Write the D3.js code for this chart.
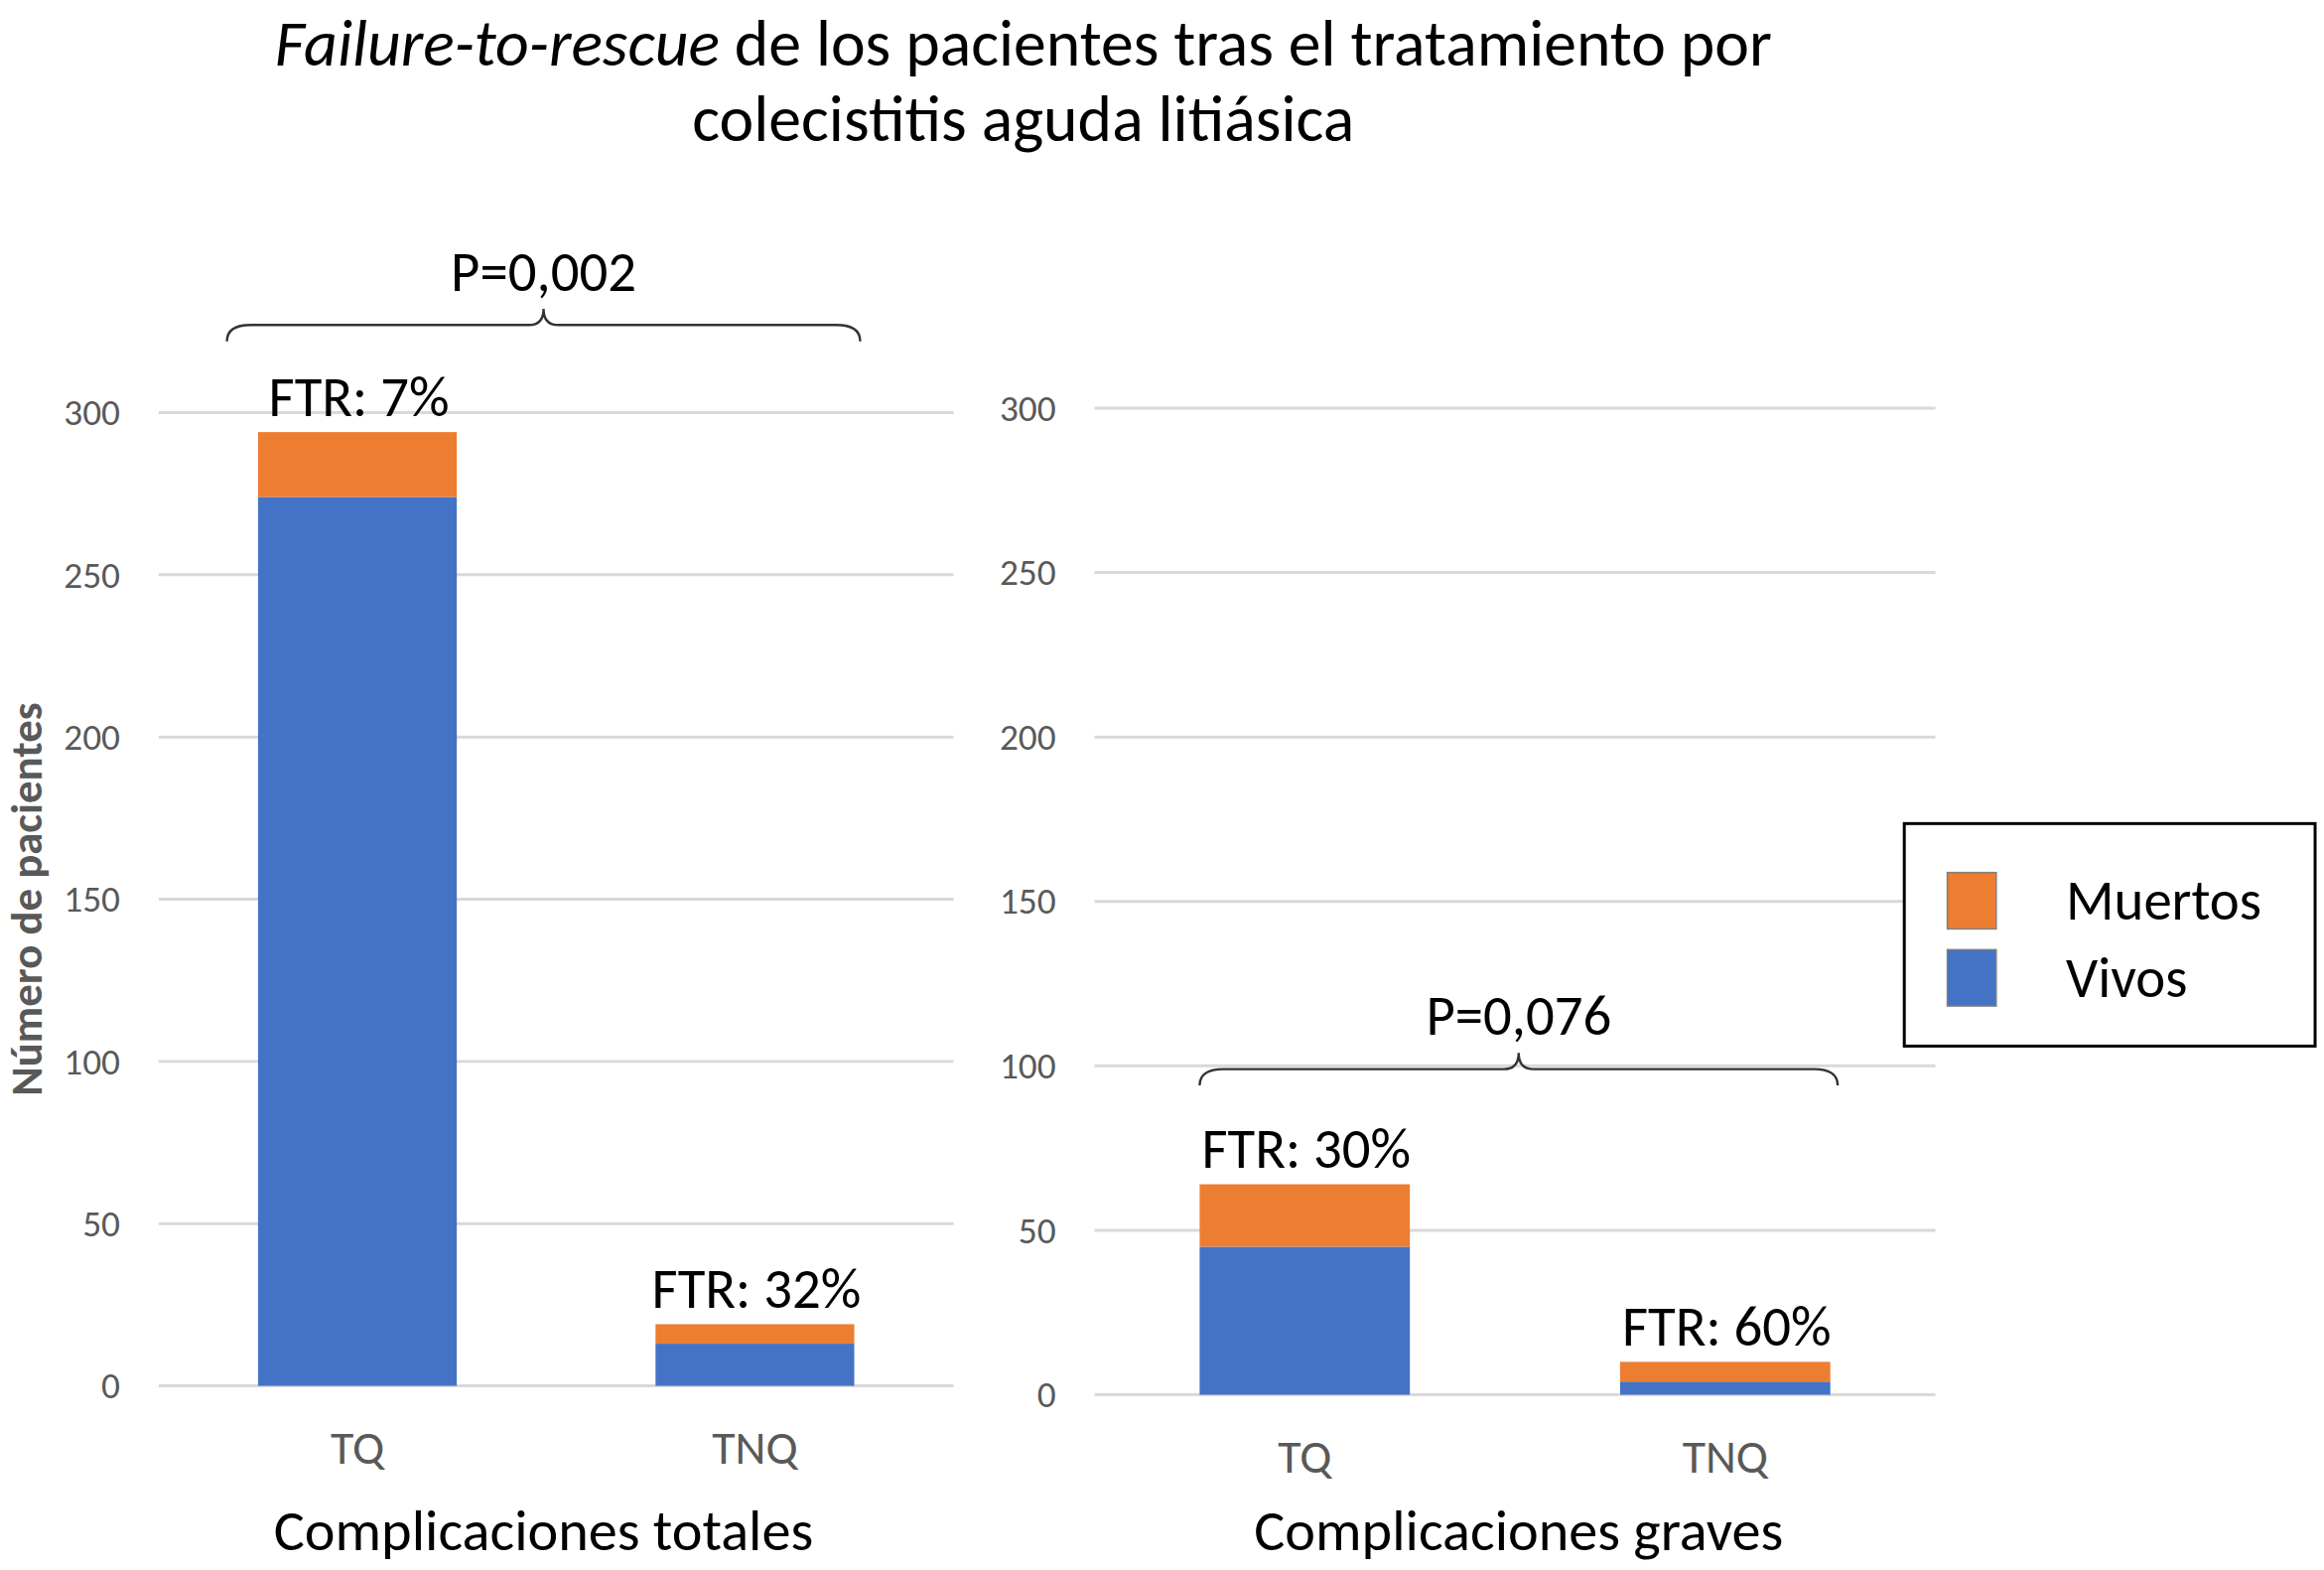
<!DOCTYPE html>
<html>
<head>
<meta charset="utf-8">
<script src="https://cdn.jsdelivr.net/npm/d3@7"></script>
<style>
  body { margin: 0; background: #fff; }
  text { font-family: Calibri, Carlito, Lato, sans-serif; }
</style>
</head>
<body>
<div id="chart"></div>
<script>
// Data
var categories = ['TQ', 'TNQ'];
var panelTitles = ['Complicaciones totales', 'Complicaciones graves'];
var vivosTotales = [274, 13];
var muertosTotales = [20, 6];
var vivosGraves = [45, 4];
var muertosGraves = [19, 6];
var ftrTotales = ['FTR: 7%', 'FTR: 32%'];
var ftrGraves = ['FTR: 30%', 'FTR: 60%'];
var pValues = ['P=0,002', 'P=0,076'];
var yTicks = [0, 50, 100, 150, 200, 250, 300];
var legendLabels = ['Muertos', 'Vivos'];

var blue = '#4472c4', orange = '#ed7d31';

// drawing is done in a 1567 x 1058 box, scaled to the window
var svg = d3.select('#chart').append('svg')
  .attr('width', 2341)
  .attr('height', 1581)
  .attr('viewBox', '0 0 1567 1058');

// Title
var title = svg.append('text')
  .attr('x', 690)
  .attr('y', 44)
  .attr('text-anchor', 'middle')
  .style('font-size', '44px')
  .style('fill', '#000');
title.append('tspan').style('font-style', 'italic').text('Failure-to-rescue');
title.append('tspan').text(' de los pacientes tras el tratamiento por');
svg.append('text')
  .attr('x', 690)
  .attr('y', 95)
  .attr('text-anchor', 'middle')
  .style('font-size', '44px')
  .text('colecistitis aguda litiásica');

// y axis title (only left panel)
svg.append('text')
  .attr('transform', 'translate(28,606) rotate(-90)')
  .attr('text-anchor', 'middle')
  .style('font-size', '30px')
  .style('font-weight', 'bold')
  .style('fill', '#595959')
  .text('Número de pacientes');

var panels = [
  { left: 107, right: 643, top: 278, bottom: 934, vivos: vivosTotales, muertos: muertosTotales,
    ftr: ftrTotales, p: pValues[0], title: panelTitles[0], braceLevel: 327, braceX0: -21, braceX1: 4 },
  { left: 738, right: 1305, top: 275, bottom: 940, vivos: vivosGraves, muertos: muertosGraves,
    ftr: ftrGraves, p: pValues[1], title: panelTitles[1], braceLevel: 99, braceX0: 0, braceX1: 5 }
];

panels.forEach(function(pn) {
  var g = svg.append('g');

  var x = d3.scaleBand()
    .domain(categories)
    .range([pn.left, pn.right])
    .paddingInner(0.5)
    .paddingOuter(0.25);

  var y = d3.scaleLinear()
    .domain([0, 300])
    .range([pn.bottom, pn.top]);

  // gridlines
  g.selectAll('.grid')
    .data(yTicks)
    .enter().append('line')
    .attr('x1', pn.left)
    .attr('x2', pn.right)
    .attr('y1', function(d) { return y(d); })
    .attr('y2', function(d) { return y(d); })
    .style('stroke', '#d9d9d9')
    .style('stroke-width', 2);

  // y axis labels
  var yAxis = d3.axisLeft(y).tickValues(yTicks).tickSize(0).tickPadding(26);
  var ya = g.append('g')
    .attr('transform', 'translate(' + pn.left + ',0)')
    .call(yAxis);
  ya.select('.domain').remove();
  ya.selectAll('text')
    .style('font-size', '25px')
    .style('fill', '#595959')
    .style('font-family', 'Calibri, Carlito, Lato, sans-serif');

  // x axis labels
  var xAxis = d3.axisBottom(x).tickSize(0).tickPadding(30);
  var xa = g.append('g')
    .attr('transform', 'translate(0,' + pn.bottom + ')')
    .call(xAxis);
  xa.select('.domain').remove();
  xa.selectAll('text')
    .style('font-size', '32px')
    .style('fill', '#595959')
    .style('font-family', 'Calibri, Carlito, Lato, sans-serif');

  // stacked bars
  g.selectAll('.vivo')
    .data(categories)
    .enter().append('rect')
    .attr('x', function(d) { return x(d); })
    .attr('width', x.bandwidth())
    .attr('y', function(d, i) { return y(pn.vivos[i]); })
    .attr('height', function(d, i) { return y(0) - y(pn.vivos[i]); })
    .style('fill', blue);

  g.selectAll('.muerto')
    .data(categories)
    .enter().append('rect')
    .attr('x', function(d) { return x(d); })
    .attr('width', x.bandwidth())
    .attr('y', function(d, i) { return y(pn.vivos[i] + pn.muertos[i]); })
    .attr('height', function(d, i) { return y(pn.vivos[i]) - y(pn.vivos[i] + pn.muertos[i]); })
    .style('fill', orange);

  // FTR labels
  g.selectAll('.ftr')
    .data(categories)
    .enter().append('text')
    .attr('x', function(d) { return x(d) + x.bandwidth() / 2 + 1; })
    .attr('y', function(d, i) { return y(pn.vivos[i] + pn.muertos[i]) - 11; })
    .attr('text-anchor', 'middle')
    .style('font-size', '38px')
    .text(function(d, i) { return pn.ftr[i]; });

  // brace with p value
  var bx0 = x(categories[0]) + pn.braceX0;
  var bx1 = x(categories[1]) + x.bandwidth() + pn.braceX1;
  var by = y(pn.braceLevel);
  var bm = (bx0 + bx1) / 2;
  var brace = 'M' + bx0 + ',' + (by + 11) +
    ' Q' + bx0 + ',' + by + ' ' + (bx0 + 16) + ',' + by +
    ' L' + (bm - 10) + ',' + by +
    ' Q' + bm + ',' + by + ' ' + bm + ',' + (by - 11) +
    ' Q' + bm + ',' + by + ' ' + (bm + 10) + ',' + by +
    ' L' + (bx1 - 16) + ',' + by +
    ' Q' + bx1 + ',' + by + ' ' + bx1 + ',' + (by + 11);
  g.append('path')
    .attr('d', brace)
    .style('fill', 'none')
    .style('stroke', '#333')
    .style('stroke-width', 1.6);
  g.append('text')
    .attr('x', bm)
    .attr('y', by - 23)
    .attr('text-anchor', 'middle')
    .style('font-size', '38px')
    .text(pn.p);

  // panel title, centred under the brace
  g.append('text')
    .attr('x', bm)
    .attr('y', 1045)
    .attr('text-anchor', 'middle')
    .style('font-size', '39px')
    .text(pn.title);
});

// Legend
var legend = svg.append('g').attr('transform', 'translate(1284,555)');
legend.append('rect')
  .attr('width', 277)
  .attr('height', 150)
  .style('fill', '#fff')
  .style('stroke', '#000')
  .style('stroke-width', 2);
legend.selectAll('.sw')
  .data(legendLabels)
  .enter().append('rect')
  .attr('x', 29)
  .attr('y', function(d, i) { return 33 + i * 52; })
  .attr('width', 33)
  .attr('height', 38)
  .style('fill', function(d, i) { return i === 0 ? orange : blue; })
  .style('stroke', '#7f7f7f')
  .style('stroke-width', 1);
legend.selectAll('.lt')
  .data(legendLabels)
  .enter().append('text')
  .attr('x', 109)
  .attr('y', function(d, i) { return 65 + i * 52; })
  .style('font-size', '38px')
  .text(function(d) { return d; });
</script>
</body>
</html>
